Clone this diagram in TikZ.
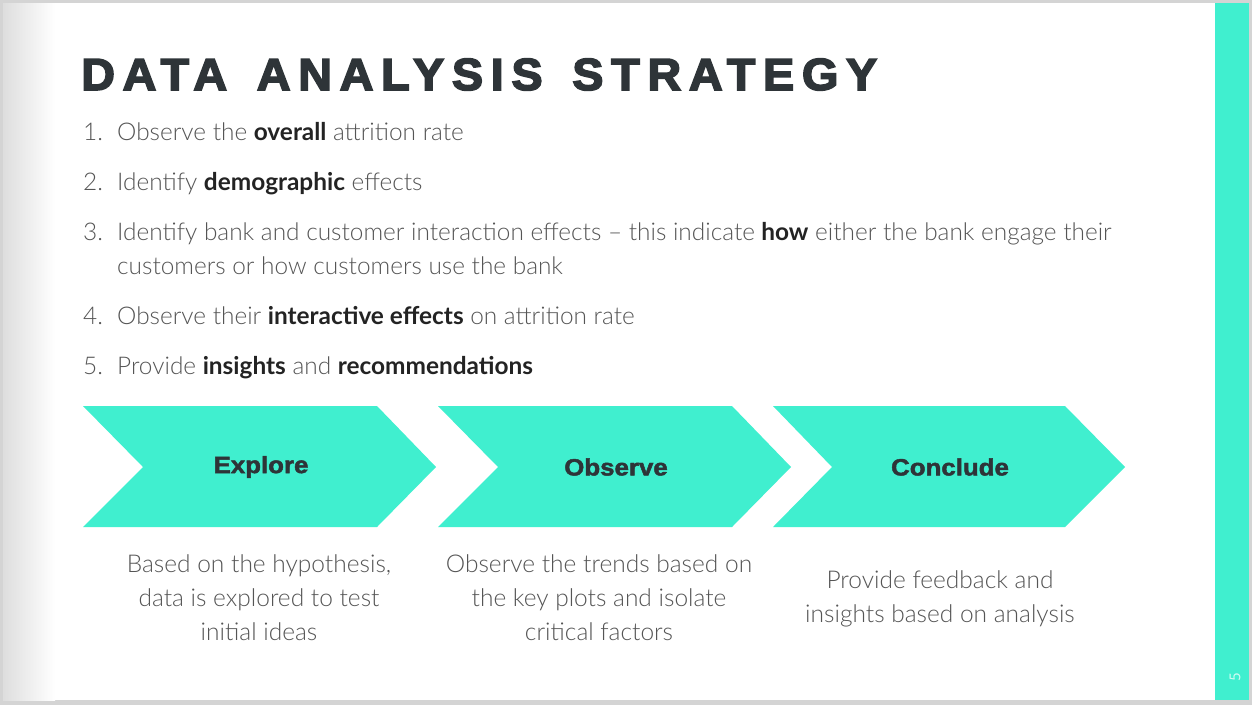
\documentclass[tikz,border=0pt]{standalone}
\usepackage{fontspec}
\setmainfont{Lato Light}[BoldFont=Lato Bold]
\newfontfamily\titlefont{Liberation Sans}[BoldFeatures={FakeBold=3.5}, LetterSpace=17, FakeStretch=1.04]
\newfontfamily\labelfont{Liberation Sans}[BoldFeatures={FakeBold=2}, FakeStretch=1.1]
\newfontfamily\descfont{Lato Light}
\newfontfamily\numfont{Lato}
\definecolor{teal}{RGB}{64,239,207}
\definecolor{dark}{RGB}{46,52,56}
\definecolor{lighttxt}{RGB}{85,85,85}
\definecolor{boldtxt}{RGB}{35,35,35}
\definecolor{framegray}{RGB}{212,212,212}
\tikzset{
  chev/.style={fill=teal, draw=none},
  listitem/.style={anchor=base west, inner sep=0pt, font=\fontsize{24.4}{28}\selectfont, text=lighttxt},
  chevlabel/.style={inner sep=0pt, font=\labelfont\bfseries\fontsize{23.5}{26}\selectfont, text=dark},
  desc/.style={inner sep=0pt, align=center, font=\descfont\fontsize{24.5}{34}\selectfont, text=lighttxt},
}
\newcommand{\hb}[1]{{\bfseries\color{boldtxt}#1}}
\begin{document}
\begin{tikzpicture}[x=1pt,y=-1pt]
\useasboundingbox (0,0) rectangle (1252,705);
% frame
\fill[framegray] (0,0) rectangle (1252,705);
\fill[white] (3,3) rectangle (1249,700);
\shade[left color=black!13, right color=white, draw=none] (3,3) rectangle (55,700);
% right stripe
\fill[teal] (1215,3) rectangle (1249,700);
\node[rotate=90, inner sep=0pt, text=white!75!teal, font=\numfont\fontsize{15}{15}\selectfont] (pagenum) at (1235,677) {5};
% title
\node[anchor=base west, inner sep=0pt, text=dark, font=\titlefont\bfseries\fontsize{45}{50}\selectfont] (title) at (81,90) {DATA\hspace{9pt} ANALYSIS\hspace{9pt} STRATEGY};
% list
\node[listitem] (n1) at (83,140) {1.};
\node[listitem] (t1) at (117,140) {Observe the \hb{overall} attrition rate};
\node[listitem] (n2) at (83,190) {2.};
\node[listitem] (t2) at (117,190) {Identify \hb{demographic} effects};
\node[listitem] (n3) at (83,240) {3.};
\node[listitem] (t3) at (117,240) {Identify bank and customer interaction effects -- this indicate \hb{how} either the bank engage their};
\node[listitem] (t3b) at (117,274) {customers or how customers use the bank};
\node[listitem] (n4) at (83,324) {4.};
\node[listitem] (t4) at (117,324) {Observe their \hb{interactive effects} on attrition rate};
\node[listitem] (n5) at (83,374) {5.};
\node[listitem] (t5) at (117,374) {Provide \hb{insights} and \hb{recommendations}};
% chevrons
\fill[chev] (83,406) -- (377,406) -- (436,467) -- (377,527) -- (83,527) -- (143,467) -- cycle;
\fill[chev] (438,406) -- (732,406) -- (791,467) -- (732,527) -- (438,527) -- (498,467) -- cycle;
\fill[chev] (773,406) -- (1065,406) -- (1125,467) -- (1065,527) -- (773,527) -- (832,467) -- cycle;
\node[chevlabel] (explore) at (261,467) {Explore};
\node[chevlabel] (observe) at (616,467) {Observe};
\node[chevlabel] (conclude) at (950,467) {Conclude};
% descriptions (base anchor = last line's baseline)
\node[desc, anchor=base] (d1) at (259,640) {Based on the hypothesis,\\data is explored to test\\initial ideas};
\node[desc, anchor=base] (d2) at (599,640) {Observe the trends based on\\the key plots and isolate\\critical factors};
\node[desc, anchor=base] (d3) at (940,622) {Provide feedback and\\insights based on analysis};
\end{tikzpicture}
\end{document}
